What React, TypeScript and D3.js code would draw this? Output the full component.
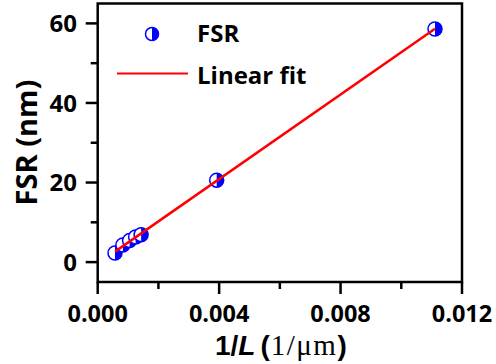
import React from "react";
import * as d3 from "d3";

const invL = [0.00057, 0.00083, 0.00105, 0.00125, 0.00143, 0.00392, 0.01111];
const fsr = [2.3, 4.3, 5.4, 6.3, 6.9, 20.6, 58.6];
const xTicks = [0, 0.004, 0.008, 0.012];
const xMinor = [0.002, 0.006, 0.01];
const yTicks = [0, 20, 40, 60];
const yMinor = [10, 30, 50];
const legendLabels = ["FSR", "Linear fit"];

const W = 496, H = 364;
const L = 97.7, R = 462, T = 3.5, B = 282;
const FONT = "'Open Sans', sans-serif";
const BLUE = "#0000ff";

function Marker({ cx, cy, r }: { cx: number; cy: number; r: number }) {
  return (
    <g>
      <circle cx={cx} cy={cy} r={r} fill="#fff" />
      <path d={`M${cx},${cy - r} A${r},${r} 0 0 1 ${cx},${cy + r} Z`} fill={BLUE} />
      <circle cx={cx} cy={cy} r={r} fill="none" stroke={BLUE} strokeWidth={1.5} />
    </g>
  );
}

export default function App() {
  const x = d3.scaleLinear().domain([0, 0.012]).range([L, R]);
  const y = d3.scaleLinear().domain([-5, 65]).range([B, T]);

  const mx = d3.mean(invL)!, my = d3.mean(fsr)!;
  const slope = d3.sum(invL.map((v, i) => (v - mx) * (fsr[i] - my))) / d3.sum(invL.map((v) => (v - mx) ** 2));
  const icpt = my - slope * mx;
  const x0 = d3.min(invL)!, x1 = d3.max(invL)!;
  const fitLine = d3.line<number>().x((d) => x(d)).y((d) => y(icpt + slope * d))([x0, x1]);

  return (
    <svg width={W} height={H} style={{ position: "absolute", left: 0, top: 0, background: "#fff" }} fontFamily={FONT}>
      {/* ticks */}
      {xTicks.map((t) => (
        <g key={"xt" + t}>
          <line x1={x(t)} x2={x(t)} y1={B} y2={B + 12} stroke="#000" strokeWidth={2.5} />
          <text x={x(t)} y={322} textAnchor="middle" fontSize={23.5} fontWeight={700}>
            {t.toFixed(3)}
          </text>
        </g>
      ))}
      {xMinor.map((t) => (
        <line key={"xm" + t} x1={x(t)} x2={x(t)} y1={B} y2={B + 7} stroke="#000" strokeWidth={2.5} />
      ))}
      {yTicks.map((t) => (
        <g key={"yt" + t}>
          <line x1={L - 12} x2={L} y1={y(t)} y2={y(t)} stroke="#000" strokeWidth={2.5} />
          <text x={77} y={y(t)} dy="0.36em" textAnchor="end" fontSize={24} fontWeight={700}>
            {t}
          </text>
        </g>
      ))}
      {yMinor.map((t) => (
        <line key={"ym" + t} x1={L - 7} x2={L} y1={y(t)} y2={y(t)} stroke="#000" strokeWidth={2.5} />
      ))}
      {/* frame */}
      <rect x={L} y={T} width={R - L} height={B - T} fill="none" stroke="#000" strokeWidth={2.5} />

      {/* data */}
      {invL.map((v, i) => (
        <Marker key={i} cx={x(v)} cy={y(fsr[i])} r={7} />
      ))}
      <path d={fitLine!} stroke="#ff0000" strokeWidth={2.5} fill="none" />

      {/* legend */}
      <Marker cx={152} cy={34} r={6.5} />
      <text x={197} y={42} fontSize={24} fontWeight={700}>{legendLabels[0]}</text>
      <line x1={117} x2={188} y1={73.5} y2={73.5} stroke="#ff0000" strokeWidth={2} />
      <text x={197} y={84} fontSize={24} fontWeight={700}>{legendLabels[1]}</text>

      {/* axis titles */}
      <text transform={`translate(37,142.5) rotate(-90)`} textAnchor="middle" fontSize={29} fontWeight={700}>
        FSR (nm)
      </text>
      <text x={(L + R) / 2 + 1} y={355} textAnchor="middle" fontSize={28} fontWeight={700} fontFamily="'Liberation Sans', Arial, sans-serif">
        1/<tspan fontStyle="italic">L</tspan><tspan dx={5}>(</tspan><tspan dx={1} fontFamily="'Liberation Serif', serif" fontWeight={400} fontSize={29} letterSpacing={1.5}>1/μm</tspan>)
      </text>
    </svg>
  );
}
